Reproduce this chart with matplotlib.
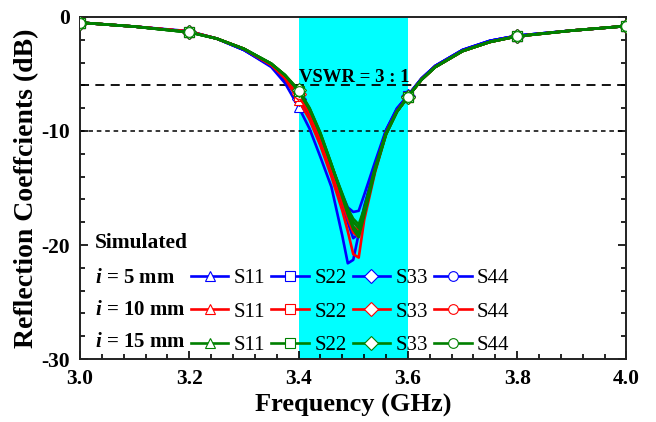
import numpy as np
import matplotlib
matplotlib.use('Agg')
import matplotlib.pyplot as plt
from matplotlib.ticker import MultipleLocator

plt.rcParams['font.family'] = ['Liberation Serif', 'DejaVu Serif']
plt.rcParams['mathtext.fontset'] = 'custom'
plt.rcParams['mathtext.it'] = 'Liberation Serif:italic:bold'
plt.rcParams['mathtext.rm'] = 'Liberation Serif:bold'
plt.rcParams['axes.unicode_minus'] = False

# frequency grid (GHz)
freq = [3.0, 3.1, 3.2, 3.25, 3.3, 3.35, 3.375, 3.4, 3.42, 3.44, 3.46, 3.48, 3.49, 3.5,
        3.51, 3.52, 3.54, 3.56, 3.58, 3.6, 3.625, 3.65, 3.7, 3.75, 3.8, 3.9, 4.0]

# i = 5 mm
b_s11 = [-0.5, -0.85, -1.25, -1.9, -2.9, -4.4, -5.8, -7.9, -9.8, -12.3, -14.9, -19.2, -21.6, -21.3,
         -19.0, -16.6, -13.1, -10.0, -8.1, -6.9, -5.4, -4.3, -2.9, -2.1, -1.65, -1.2, -0.8]
b_s22 = [-0.5, -0.85, -1.3, -1.9, -2.9, -4.3, -5.4, -7.0, -8.6, -10.8, -13.2, -15.6, -16.7, -17.1,
         -17.0, -15.6, -12.7, -9.9, -8.0, -6.9, -5.4, -4.3, -2.9, -2.1, -1.65, -1.2, -0.8]
b_s33 = [-0.5, -0.85, -1.3, -1.9, -2.9, -4.3, -5.5, -7.2, -8.9, -11.2, -13.8, -16.6, -17.9, -18.7,
         -18.6, -16.8, -13.2, -10.0, -8.1, -6.9, -5.4, -4.3, -2.9, -2.1, -1.65, -1.2, -0.8]
b_s44 = [-0.5, -0.85, -1.3, -1.9, -2.9, -4.3, -5.5, -7.1, -8.8, -11.0, -13.6, -16.4, -18.0, -19.4,
         -19.0, -17.0, -13.3, -10.0, -8.1, -6.9, -5.4, -4.3, -2.9, -2.1, -1.65, -1.2, -0.8]

# i = 10 mm
r_s11 = [-0.5, -0.85, -1.3, -1.9, -2.8, -4.2, -5.4, -7.3, -9.0, -11.3, -14.0, -17.0, -18.8, -20.8,
         -21.1, -17.8, -13.6, -10.3, -8.3, -7.0, -5.5, -4.4, -3.0, -2.2, -1.7, -1.2, -0.8]
r_s22 = [-0.5, -0.85, -1.3, -1.9, -2.8, -4.2, -5.3, -6.9, -8.5, -10.8, -13.4, -16.3, -17.7, -18.9,
         -19.3, -17.2, -13.4, -10.2, -8.3, -7.0, -5.5, -4.4, -3.0, -2.2, -1.7, -1.2, -0.8]
r_s33 = [-0.5, -0.85, -1.3, -1.9, -2.8, -4.2, -5.2, -6.8, -8.4, -10.6, -13.2, -16.0, -17.4, -18.4,
         -18.7, -17.0, -13.3, -10.2, -8.3, -7.0, -5.5, -4.4, -3.0, -2.2, -1.7, -1.2, -0.8]
r_s44 = [-0.5, -0.85, -1.3, -1.9, -2.8, -4.2, -5.2, -6.8, -8.4, -10.7, -13.3, -16.1, -17.6, -18.7,
         -19.0, -17.1, -13.4, -10.2, -8.3, -7.0, -5.5, -4.4, -3.0, -2.2, -1.7, -1.2, -0.8]

# i = 15 mm
g_s11 = [-0.5, -0.85, -1.35, -1.9, -2.8, -4.1, -5.1, -6.4, -8.0, -10.2, -12.9, -15.8, -17.3, -18.6,
         -19.3, -17.4, -13.5, -10.3, -8.3, -7.0, -5.5, -4.4, -3.0, -2.2, -1.7, -1.2, -0.8]
g_s22 = [-0.5, -0.85, -1.35, -1.9, -2.8, -4.1, -5.1, -6.5, -8.1, -10.3, -13.0, -15.6, -17.0, -18.0,
         -18.5, -17.0, -13.3, -10.2, -8.3, -7.0, -5.5, -4.4, -3.0, -2.2, -1.7, -1.2, -0.8]
g_s33 = [-0.5, -0.85, -1.35, -1.9, -2.8, -4.1, -5.1, -6.4, -8.0, -10.2, -12.9, -15.7, -17.2, -18.4,
         -19.0, -17.2, -13.4, -10.3, -8.3, -7.0, -5.5, -4.4, -3.0, -2.2, -1.7, -1.2, -0.8]
g_s44 = [-0.5, -0.85, -1.35, -1.9, -2.8, -4.1, -5.1, -6.5, -8.1, -10.3, -13.0, -15.5, -16.8, -17.7,
         -18.2, -16.8, -13.2, -10.2, -8.3, -7.0, -5.5, -4.4, -3.0, -2.2, -1.7, -1.2, -0.8]

configs = ['$i$ = 5 mm', '$i$ = 10 mm', '$i$ = 15 mm']
ports = ['S11', 'S22', 'S33', 'S44']
data = [[b_s11, b_s22, b_s33, b_s44],
        [r_s11, r_s22, r_s33, r_s44],
        [g_s11, g_s22, g_s33, g_s44]]
colors = ['#0000FF', '#FF0000', '#008000']
markers = ['^', 's', 'D', 'o']
mark_idx = [0, 2, 7, 19, 24, 26]

fig = plt.figure(figsize=(6.56, 4.22), dpi=100)
ax = fig.add_axes([0.122, 0.149, 0.833, 0.811])

ax.axvspan(3.4, 3.6, color='#00FFFF', zorder=0, lw=0)
ax.axhline(-6, color='black', lw=1.3, dashes=(5, 3.5), zorder=1)
ax.axhline(-10, color='black', lw=1.1, dashes=(3, 2.5), zorder=1)

handles = {}
for c in range(3):
    for p in range(4):
        ln, = ax.plot(freq, data[c][p], color=colors[c], lw=1.9,
                      marker=markers[p], markersize=7, markerfacecolor='white',
                      markeredgecolor=colors[c], markeredgewidth=0.8,
                      markevery=mark_idx, zorder=2 + c)
        handles[(c, p)] = ln

# legend laid out column by column (matplotlib fills columns first)
h_list = []
l_list = []
for p in range(4):
    for c in range(3):
        h_list.append(handles[(c, p)])
        l_list.append(ports[p])
ax.legend(h_list, l_list, ncol=4, loc='lower left', bbox_to_anchor=(0.203, 0.012),
          frameon=False, fontsize=15, handlelength=1.8, handletextpad=0.25,
          columnspacing=0.3, labelspacing=0.66, borderpad=0, borderaxespad=0)

ax.text(0.027, 0.339, 'Simulated', transform=ax.transAxes, fontsize=15.5,
        fontweight='bold', va='center', ha='left')
for c, yy in enumerate([0.237, 0.143, 0.050]):
    ax.text(0.027, yy, configs[c], transform=ax.transAxes, fontsize=15,
            fontweight='bold', va='center', ha='left')

ax.text(3.4, -5.75, 'VSWR = 3 : 1', fontsize=13.5, fontweight='bold',
        ha='left', va='baseline', zorder=6)

ax.set_xlim(3.0, 4.0)
ax.set_ylim(-30, 0)
ax.xaxis.set_major_locator(MultipleLocator(0.2))
ax.xaxis.set_minor_locator(MultipleLocator(0.04))
ax.yaxis.set_major_locator(MultipleLocator(10))
ax.yaxis.set_minor_locator(MultipleLocator(2))
ax.set_xticklabels([f'{v:.1f}' for v in ax.get_xticks()])
ax.tick_params(which='both', direction='in', right=True, top=False, width=1.2)
ax.tick_params(which='major', length=6, labelsize=15.5, pad=7)
ax.tick_params(which='minor', length=3.5)
for lab in ax.get_xticklabels() + ax.get_yticklabels():
    lab.set_fontweight('bold')
for sp in ax.spines.values():
    sp.set_linewidth(1.4)
    sp.set_color('#222222')

ax.set_xlabel('Frequency (GHz)', fontsize=19, fontweight='bold', labelpad=4)
ax.set_ylabel('Reflection Coeffcients (dB)', fontsize=20, fontweight='bold', labelpad=2)

fig.savefig('out.png', dpi=100)
